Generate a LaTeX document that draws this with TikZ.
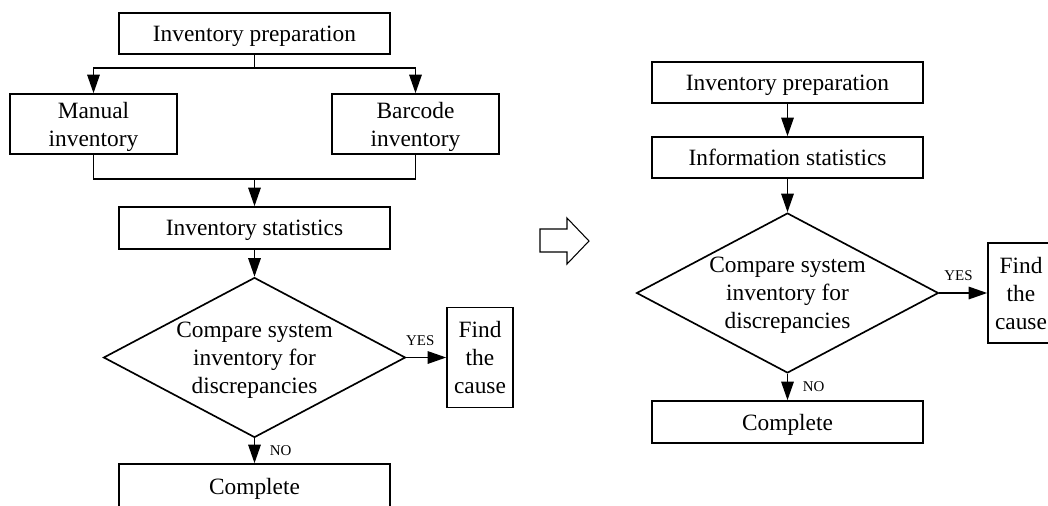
\documentclass[tikz,border=0pt]{standalone}
\usepackage{fontspec}
\setmainfont{Liberation Serif}
\usetikzlibrary{arrows.meta, shapes.geometric}

\begin{document}
\begin{tikzpicture}[x=0.02cm, y=-0.02cm,
    block/.style={rectangle, draw, line width=0.95pt, minimum width=5.42cm, minimum height=0.82cm, inner sep=1pt, text depth=0pt, font=\fontsize{13.3}{15.9}\selectfont, align=center},
    decision/.style={diamond, draw, line width=0.95pt, aspect=1.9, minimum width=6.04cm, minimum height=3.2cm, inner sep=0pt, text depth=0pt, font=\fontsize{13.3}{15.9}\selectfont, align=center},
    arr/.style={-{Triangle[length=0.37cm, width=0.25cm]}, line width=0.85pt},
    yn/.style={font=\fontsize{8.5}{10}\selectfont}
  ]
  \useasboundingbox (0,0) rectangle (1048,505);
  \clip (0,0) rectangle (1048,505);

  % Manual process
  \node[block] (prepL) at (254.5, 33.5) {Inventory preparation};
  \node[block, minimum width=3.34cm, minimum height=1.2cm] (manual) at (93.5, 124) {Manual\\inventory};
  \node[block, minimum width=3.34cm, minimum height=1.2cm] (barcode) at (415.5, 124) {Barcode\\inventory};
  \node[block, minimum height=0.84cm] (statL) at (254.5, 228) {Inventory statistics};
  \node[decision] (cmpL) at (254.5, 357.5) {Compare system\\inventory for\\discrepancies};
  \node[block, minimum width=1.32cm, minimum height=2cm] (causeL) at (480, 357.5) {Find\\the\\cause};
  \node[block, minimum height=0.88cm] (doneL) at (254.5, 486) {Complete};

  \coordinate (split) at (254.5, 68);
  \coordinate (merge) at (254.5, 179);
  \draw[line width=0.85pt] (prepL.south) -- (split);
  \draw[arr] (split) -| (manual.north);
  \draw[arr] (split) -| (barcode.north);
  \draw[line width=0.85pt] (manual.south) |- (merge);
  \draw[line width=0.85pt] (barcode.south) |- (merge);
  \draw[arr] (merge) -- (statL.north);
  \draw[arr] (statL.south) -- (cmpL.north);
  \draw[arr] (cmpL.east) -- node[yn, above=3pt, pos=0.35] {YES} (causeL.west);
  \draw[arr] (cmpL.south) -- node[yn, right=5pt] {NO} (doneL.north);

  % Transition
  \draw[line width=0.6pt] (540,229) -- (567,229) -- (567,218) -- (589,241) -- (567,264) -- (567,252) -- (540,252) -- cycle;

  % Information process
  \node[block] (prepR) at (787.5, 82.5) {Inventory preparation};
  \node[block] (infoR) at (787.5, 157.5) {Information statistics};
  \node[decision] (cmpR) at (787.5, 293) {Compare system\\inventory for\\discrepancies};
  \node[block, minimum width=1.32cm, minimum height=2cm] (causeR) at (1021, 293) {Find\\the\\cause};
  \node[block, minimum height=0.84cm] (doneR) at (787.5, 422) {Complete};

  \draw[arr] (prepR.south) -- (infoR.north);
  \draw[arr] (infoR.south) -- (cmpR.north);
  \draw[arr] (cmpR.east) -- node[yn, above=3pt, pos=0.4] {YES} (causeR.west);
  \draw[arr] (cmpR.south) -- node[yn, right=5pt] {NO} (doneR.north);
\end{tikzpicture}
\end{document}
